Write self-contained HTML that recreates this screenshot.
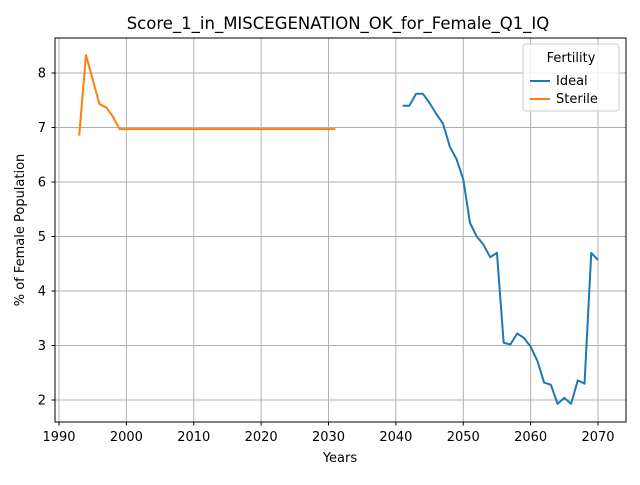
<!DOCTYPE html>
<html><head><meta charset="utf-8"><style>
body{margin:0;background:#fff;}
svg{font-family:"DejaVu Sans","Liberation Sans",sans-serif;}
</style></head><body>
<svg id="chart" width="640" height="480">
<rect x="0" y="0" width="640" height="480" fill="#fff"/>
<text x="338" y="29" font-size="16.5" text-anchor="middle">Score_1_in_MISCEGENATION_OK_for_Female_Q1_IQ</text>
<g id="grid"></g><g id="series"></g>
<rect x="55" y="38" width="571" height="384" fill="none" stroke="#000" stroke-width="1"/>
<g id="ticks"></g>
<text x="340" y="462" font-size="13" text-anchor="middle">Years</text>
<text x="24" y="230" font-size="13" text-anchor="middle" transform="rotate(-90 24 230)">% of Female Population</text>
<g>
<rect x="523" y="44" width="96" height="67" rx="3" fill="#fff" fill-opacity="0.8" stroke="#ccc"/>
<text x="571" y="62" font-size="13" text-anchor="middle">Fertility</text>
<line x1="530" y1="81" x2="550" y2="81" stroke="#1f77b4" stroke-width="2"/>
<text x="556" y="85" font-size="13">Ideal</text>
<line x1="530" y1="99" x2="550" y2="99" stroke="#ff7f0e" stroke-width="2"/>
<text x="556" y="103" font-size="13">Sterile</text>
</g>
</svg>
<script>
const xTicks=[1990,2000,2010,2020,2030,2040,2050,2060,2070];
const yTicks=[2,3,4,5,6,7,8];
const idealYears=[2041,2042,2043,2044,2045,2046,2047,2048,2049,2050,2051,2052,2053,2054,2055,2056,2057,2058,2059,2060,2061,2062,2063,2064,2065,2066,2067,2068,2069,2070];
const idealValues=[7.4,7.4,7.62,7.62,7.45,7.25,7.07,6.65,6.42,6.05,5.25,5.0,4.85,4.62,4.7,3.05,3.02,3.22,3.14,2.98,2.72,2.32,2.28,1.93,2.04,1.93,2.36,2.3,4.7,4.57];
const sterileYears=[1993,1994,1995,1996,1997,1998,1999,2000,2005,2010,2015,2020,2025,2031];
const sterileValues=[6.85,8.33,7.88,7.43,7.37,7.2,6.97,6.97,6.97,6.97,6.97,6.97,6.97,6.97];
const NS='http://www.w3.org/2000/svg';
const xs=v=>59+(v-1990)*6.7375;
const ys=v=>400-(v-2)*54.5;
const grid=document.getElementById('grid'),ticks=document.getElementById('ticks'),ser=document.getElementById('series');
function mk(tag,attrs,parent){const e=document.createElementNS(NS,tag);for(const k in attrs)e.setAttribute(k,attrs[k]);parent.appendChild(e);return e;}
xTicks.forEach(t=>{const x=xs(t);
const g=mk('line',{x1:x,x2:x,y1:38,y2:422,stroke:'#b0b0b0','stroke-width':1},grid);


mk('line',{x1:x,x2:x,y1:422,y2:425.5,stroke:'#000'},ticks);
const l=mk('text',{x:x,y:441,'font-size':13,'text-anchor':'middle'},ticks);l.textContent=t;

});
yTicks.forEach(t=>{const y=ys(t);
const g=mk('line',{x1:55,x2:626,y1:y,y2:y,stroke:'#b0b0b0','stroke-width':1},grid);


mk('line',{x1:51.5,x2:55,y1:y,y2:y,stroke:'#000'},ticks);
const l=mk('text',{x:46,y:y+4.5,'font-size':13,'text-anchor':'end'},ticks);l.textContent=t;

});
function line(xsA,vs,c,name){const p=mk('polyline',{points:xsA.map((x,i)=>xs(x)+','+ys(vs[i])).join(' '),fill:'none',stroke:c,'stroke-width':2,'stroke-linejoin':'round'},ser);

}
line(idealYears,idealValues,'#1f77b4','ideal-line');
line(sterileYears,sterileValues,'#ff7f0e','sterile-line');
</script>
</body></html>
